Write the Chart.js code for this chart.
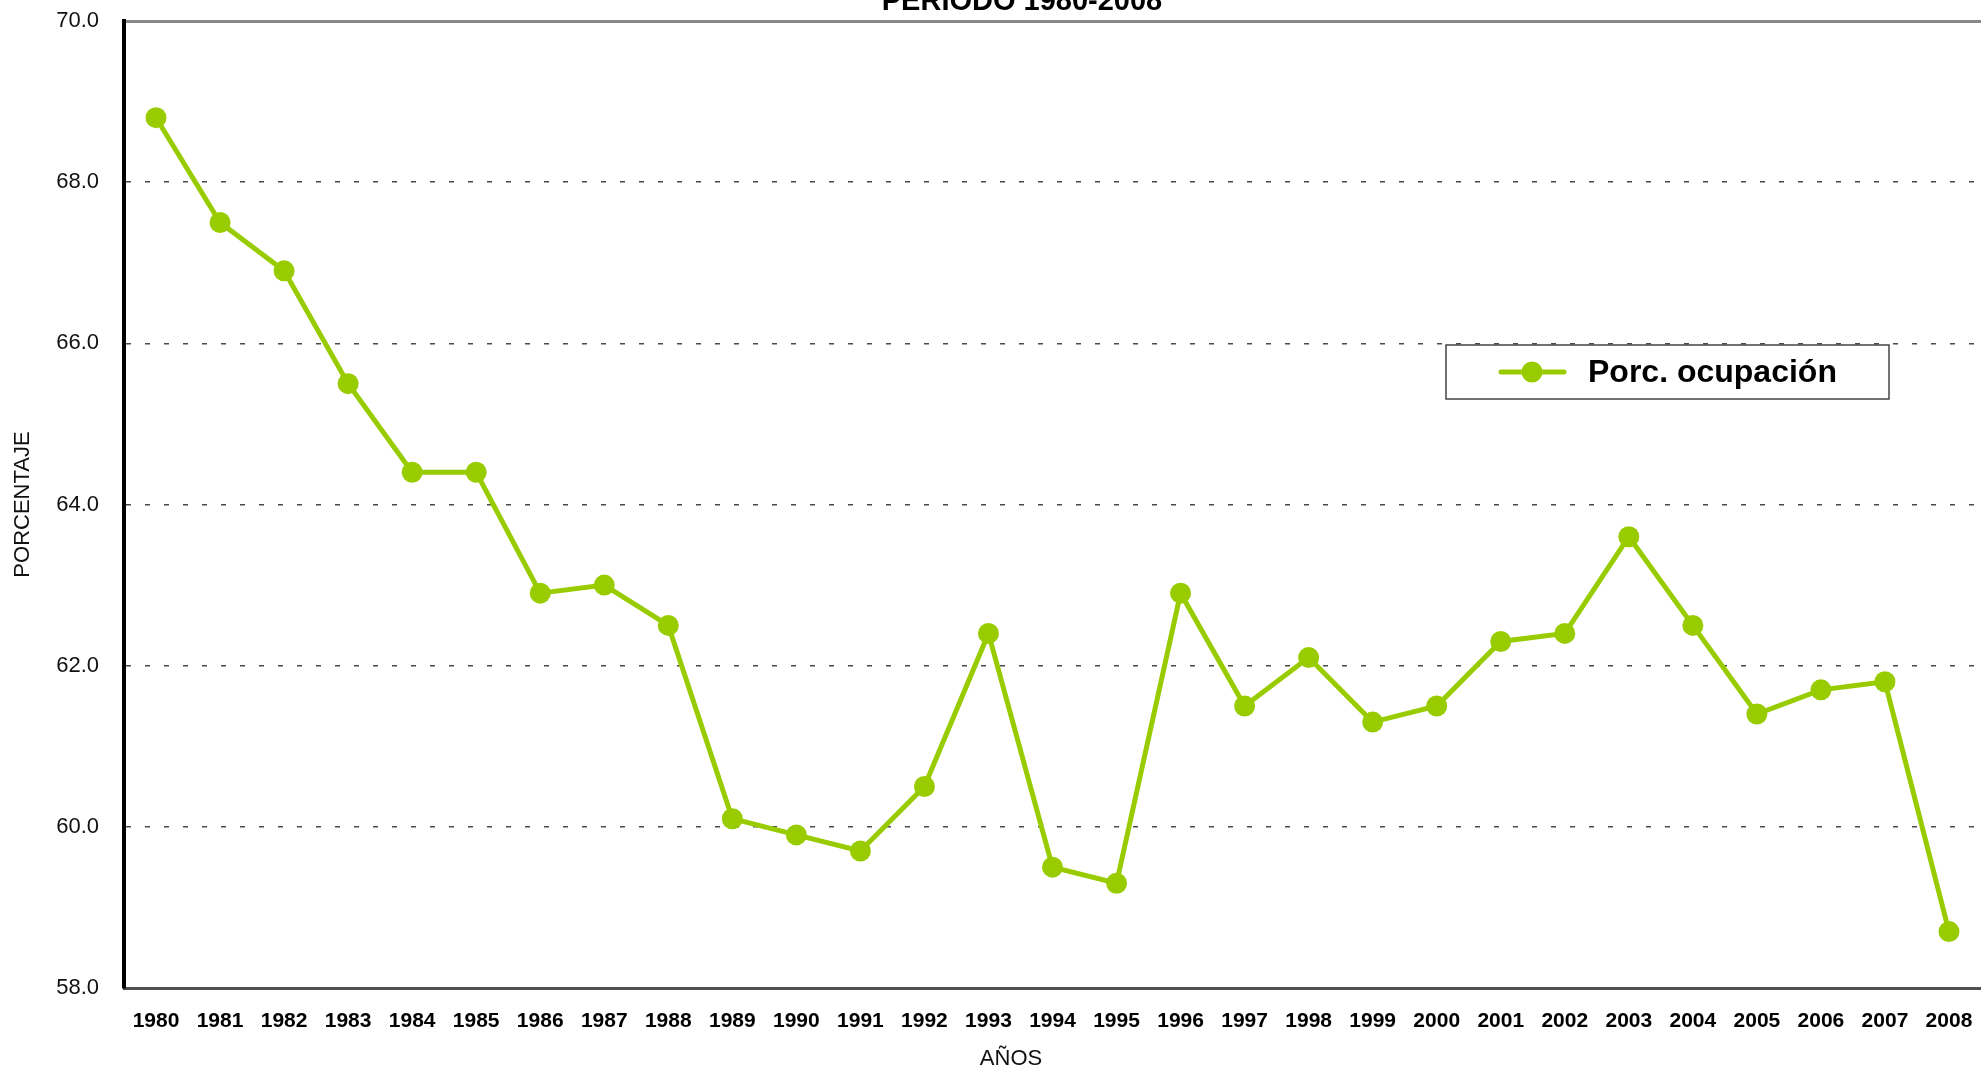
<!DOCTYPE html>
<html lang="es">
<head>
<meta charset="utf-8">
<title>Porcentaje de ocupación 1980-2008</title>
<script src="https://cdn.jsdelivr.net/npm/chart.js@4.4.1/dist/chart.umd.min.js"></script>
<style>
  html, body { margin: 0; padding: 0; background: #fff; }
  #wrap { width: 1981px; height: 1071px; position: relative; }
</style>
</head>
<body>
<div id="wrap"><canvas id="ocupacion" width="1981" height="1071"></canvas></div>
<script>
  // Data
  const YEARS = ['1980','1981','1982','1983','1984','1985','1986','1987','1988','1989',
                 '1990','1991','1992','1993','1994','1995','1996','1997','1998','1999',
                 '2000','2001','2002','2003','2004','2005','2006','2007','2008'];
  const OCUPACION = [68.8, 67.5, 66.9, 65.5, 64.4, 64.4, 62.9, 63.0, 62.5, 60.1,
                     59.9, 59.7, 60.5, 62.4, 59.5, 59.3, 62.9, 61.5, 62.1, 61.3,
                     61.5, 62.3, 62.4, 63.6, 62.5, 61.4, 61.7, 61.8, 58.7];
  const Y_MIN = 58;
  const Y_MAX = 70;
  const Y_STEP = 2;

  const TITLE = 'PERIODO 1980-2008';
  const X_TITLE = 'AÑOS';
  const SERIES_LABEL = 'Porc. ocupación';

  const COLORS = {
    line:     '#99cc00',
    grid:     '#4a4a4a',
    topLine:  '#888888',
    xAxis:    '#505050',
    yAxis:    '#000000',
    text:     '#000000',
  };
  const FONT = '"Liberation Sans", Arial, sans-serif';

  // title is clipped by the top of the picture and the x title sits off-centre,
  // so both are drawn by hand
  const extraText = {
    id: 'extraText',
    afterDraw(chart) {
      const ctx = chart.ctx;
      ctx.save();
      ctx.fillStyle = COLORS.text;
      ctx.textAlign = 'center';
      ctx.font = 'bold 29px ' + FONT;
      ctx.textBaseline = 'alphabetic';
      ctx.fillText(TITLE, 1022, 10);
      ctx.fillStyle = '#111';
      ctx.font = '22px ' + FONT;
      ctx.textBaseline = 'middle';
      ctx.fillText(X_TITLE, 1011, 1059);
      ctx.restore();
    }
  };

  // boxed legend floating inside the plot area
  const boxLegend = {
    id: 'boxLegend',
    afterDraw(chart) {
      const ctx = chart.ctx;
      const ds = chart.data.datasets[0];
      const box = { x: 1446, y: 345, w: 443, h: 54 };
      const cy = box.y + box.h / 2;
      ctx.save();
      ctx.fillStyle = '#fff';
      ctx.fillRect(box.x, box.y, box.w, box.h);
      ctx.strokeStyle = '#444';
      ctx.lineWidth = 1.5;
      ctx.strokeRect(box.x, box.y, box.w, box.h);

      ctx.strokeStyle = ds.borderColor;
      ctx.lineWidth = ds.borderWidth;
      ctx.lineCap = 'round';
      ctx.beginPath();
      ctx.moveTo(box.x + 55, cy);
      ctx.lineTo(box.x + 118, cy);
      ctx.stroke();
      ctx.fillStyle = ds.pointBackgroundColor;
      ctx.beginPath();
      ctx.arc(box.x + 86, cy, ds.pointRadius, 0, Math.PI * 2);
      ctx.fill();

      ctx.fillStyle = COLORS.text;
      ctx.font = 'bold 32px ' + FONT;
      ctx.textBaseline = 'middle';
      ctx.fillText(ds.label, box.x + 142, cy + 1);
      ctx.restore();
    }
  };

  new Chart(document.getElementById('ocupacion'), {
    type: 'line',
    data: {
      labels: YEARS,
      datasets: [{
        label: SERIES_LABEL,
        data: OCUPACION,
        borderColor: COLORS.line,
        backgroundColor: COLORS.line,
        borderWidth: 5,
        pointRadius: 10.5,
        pointHoverRadius: 10.5,
        pointBorderWidth: 0,
        pointBackgroundColor: COLORS.line,
        tension: 0,
        fill: false,
        clip: false,
      }],
    },
    options: {
      responsive: false,
      animation: false,
      devicePixelRatio: 1,
      layout: { autoPadding: false, padding: { top: 21, right: 0, left: 0, bottom: 0 } },
      plugins: {
        legend: { display: false },
        tooltip: { enabled: false },
        title: { display: false },
      },
      scales: {
        x: {
          offset: true,
          grid: { display: false, drawTicks: false },
          border: { display: true, color: COLORS.xAxis, width: 3 },
          ticks: {
            padding: 21,
            color: COLORS.text,
            font: { family: FONT, size: 21, weight: 'bold' },
            maxRotation: 0,
            autoSkip: false,
          },
          title: { display: false },
          afterFit: scale => {
            scale.height = 83;
            scale.paddingLeft = 0;
            scale.paddingRight = 0;
          },
        },
        y: {
          min: Y_MIN,
          max: Y_MAX,
          grid: {
            drawTicks: false,
            color: ctx => {
              if (!ctx.tick) return COLORS.grid;
              if (ctx.tick.value === Y_MAX) return COLORS.topLine;
              if (ctx.tick.value === Y_MIN) return 'rgba(0,0,0,0)';
              return COLORS.grid;
            },
            lineWidth: ctx => (ctx.tick && ctx.tick.value === Y_MAX) ? 3 : 1.5,
          },
          border: {
            display: true,
            color: COLORS.yAxis,
            width: 4,
            dash: ctx => (ctx.tick && ctx.tick.value !== Y_MAX) ? [5, 14] : [],
            dashOffset: 0,
          },
          ticks: {
            stepSize: Y_STEP,
            padding: 25,
            color: '#111',
            font: { family: FONT, size: 22 },
            callback: v => Number(v).toFixed(1),
          },
          title: {
            display: true,
            text: 'PORCENTAJE',
            color: '#111',
            font: { family: FONT, size: 22 },
            padding: { top: 10, bottom: 0 },
          },
          afterFit: scale => {
            scale.width = 124;
            scale.paddingTop = 0;
            scale.paddingBottom = 0;
          },
        },
      },
    },
    plugins: [extraText, boxLegend],
  });
</script>
</body>
</html>
